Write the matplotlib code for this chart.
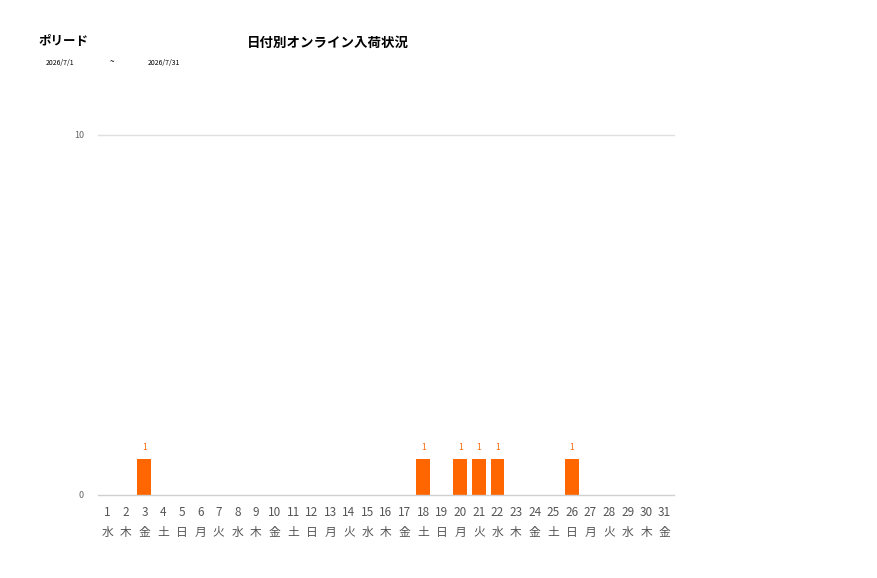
import matplotlib
matplotlib.use("Agg")
import matplotlib.pyplot as plt

plt.rcParams['font.family'] = ['Noto Sans CJK JP', 'DejaVu Sans']

days = list(range(1, 32))
weekdays = ["水","木","金","土","日","月","火"] * 5
weekdays = weekdays[:31]
values = [0]*31
for d in [3, 18, 20, 21, 22, 26]:
    values[d-1] = 1

title = "日付別オンライン入荷状況"
store = "ポリード"
date_from = "2026/7/1"
date_to = "2026/7/31"

fig = plt.figure(figsize=(8.77, 5.78), dpi=100)
ax = fig.add_axes([98/877, 83/578, 576/877, 360/578])

xs = list(range(len(days)))
ax.bar(xs, values, width=0.75, color="#FF6600", zorder=3)
for x, v in zip(xs, values):
    if v > 0:
        ax.text(x, v + 0.2, str(v), ha="center", va="bottom", fontsize=6, color="#FF6600")

ax.set_xlim(-0.5, len(days) - 0.5)
ax.set_ylim(0, 10)
ax.set_yticks([0, 10])
ax.set_yticklabels(["0", "10"], fontsize=6.5, color="#666666")
ax.set_xticks(xs)
ax.set_xticklabels([f"{d}\n{w}" for d, w in zip(days, weekdays)], fontsize=8.5, color="#555555", linespacing=1.65)
ax.tick_params(axis="both", length=0)
ax.tick_params(axis="x", pad=8)
ax.tick_params(axis="y", pad=10)
for s in ax.spines.values():
    s.set_visible(False)
ax.axhline(10, color="#e0e0e0", lw=1, zorder=1, clip_on=False)
ax.axhline(0, color="#d0d0d0", lw=1, zorder=4, clip_on=False)

fig.text(38/877, 1 - 42/578, store, fontsize=9, fontweight="bold", va="center", ha="left")
fig.text(247/877, 1 - 43/578, title, fontsize=9.7, fontweight="bold", va="center", ha="left")
fig.text(46/877, 1 - 63/578, date_from, fontsize=5, va="center", ha="left")
fig.text(110/877, 1 - 62/578, "~", fontsize=6, va="center", ha="left")
fig.text(148/877, 1 - 63/578, date_to, fontsize=5, va="center", ha="left")

fig.savefig("out.png", dpi=100)
